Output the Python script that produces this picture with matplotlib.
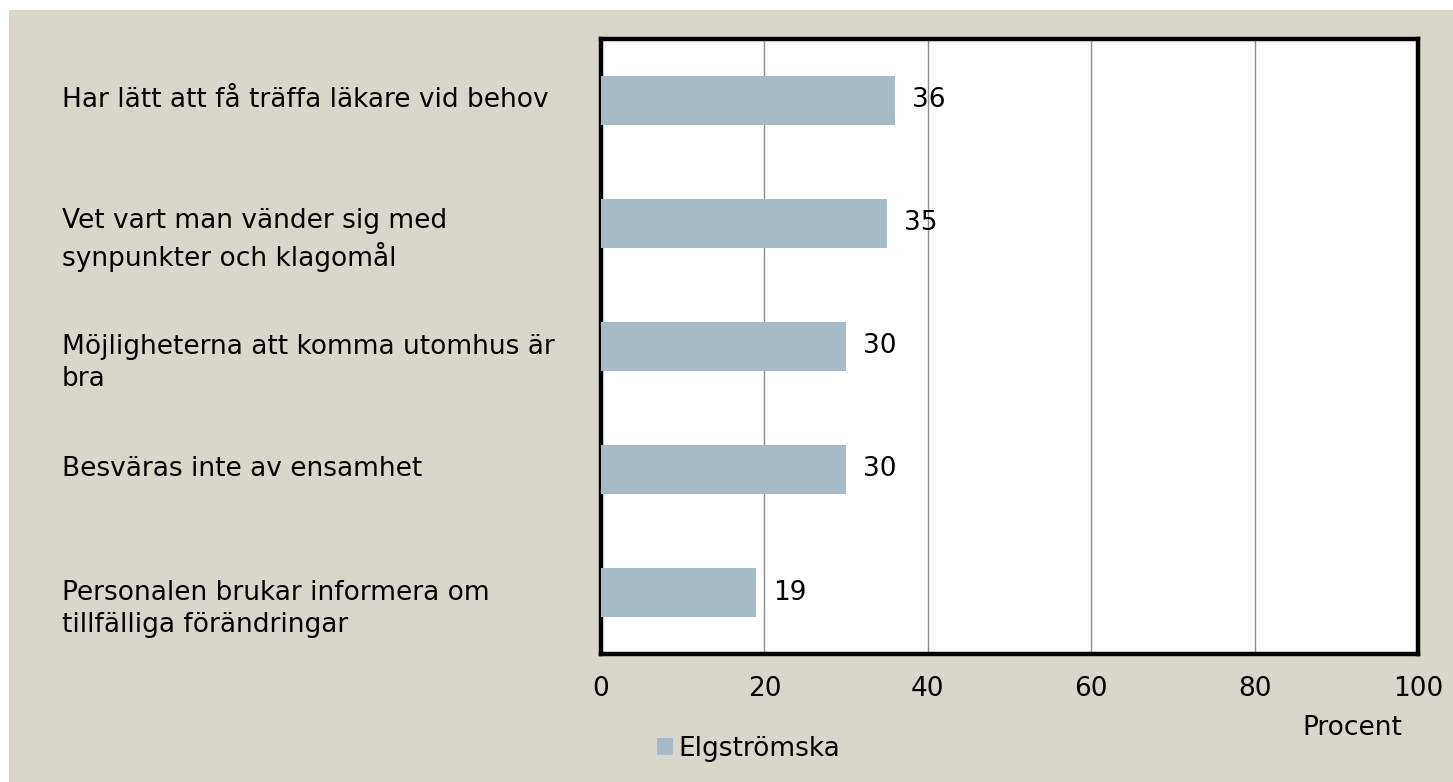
import matplotlib.pyplot as plt
import matplotlib.transforms as mtransforms
from matplotlib.patches import Rectangle

# Data
categories = [
    "Har lätt att få träffa läkare vid behov",
    "Vet vart man vänder sig med\nsynpunkter och klagomål",
    "Möjligheterna att komma utomhus är\nbra",
    "Besväras inte av ensamhet",
    "Personalen brukar informera om\ntillfälliga förändringar",
]
values = [36, 35, 30, 30, 19]
series_name = "Elgströmska"
x_ticks = [0, 20, 40, 60, 80, 100]

bg_color = "#d9d7cb"
bar_color = "#a7bbc6"
W, H = 1453, 782
fs = 19

fig = plt.figure(figsize=(W / 100, H / 100), dpi=100)
fig.patch.set_facecolor("white")
# beige panel (small white margin at top/left as in the original)
fig.patches.append(Rectangle((9 / W, 0), 1 - 9 / W, 1 - 10 / H,
                             transform=fig.transFigure, facecolor=bg_color,
                             edgecolor="none", zorder=-10))

ax = fig.add_axes([601 / W, 1 - 654 / H, (1418 - 601) / W, (654 - 39) / H])
ax.set_facecolor("white")

y_pos = list(range(len(categories)))
bars = ax.barh(y_pos, values, height=0.4, color=bar_color, label=series_name, zorder=3)

ax.set_xlim(0, 100)
ax.set_ylim(len(categories) - 0.5, -0.5)
ax.set_xticks(x_ticks)
ax.set_xticklabels([str(t) for t in x_ticks], fontsize=fs)
ax.tick_params(axis="x", length=0, pad=16)
ax.set_yticks([])
ax.grid(axis="x", color="#8c8c8c", linewidth=1.0, zorder=1)
for sp in ax.spines.values():
    sp.set_linewidth(3.2)
    sp.set_color("black")

# value labels
for b, v in zip(bars, values):
    ax.annotate(str(v), (b.get_width(), b.get_y() + b.get_height() / 2),
                xytext=(12, 0), textcoords="offset points",
                va="center", ha="left", fontsize=fs, zorder=4)

# category labels, first line aligned with the bar centre
trans = mtransforms.blended_transform_factory(fig.transFigure, ax.transData)
for y, lab in zip(y_pos, categories):
    n = lab.count("\n")
    off = mtransforms.ScaledTranslation(0, -n * 11.9 / 72, fig.dpi_scale_trans)
    fig.text(62 / W, y, lab, transform=trans + off, ha="left", va="center",
             fontsize=fs, linespacing=1.32)

fig.text(1352 / W, 1 - 728 / H, "Procent", ha="center", va="center", fontsize=fs)
fig.legend(loc="center left", bbox_to_anchor=(657 / W, 1 - 749 / H), frameon=False,
           fontsize=fs, handlelength=0.6, handleheight=0.6, handletextpad=0.2,
           borderpad=0, borderaxespad=0)

fig.savefig("out.png", dpi=100, facecolor=fig.get_facecolor())
